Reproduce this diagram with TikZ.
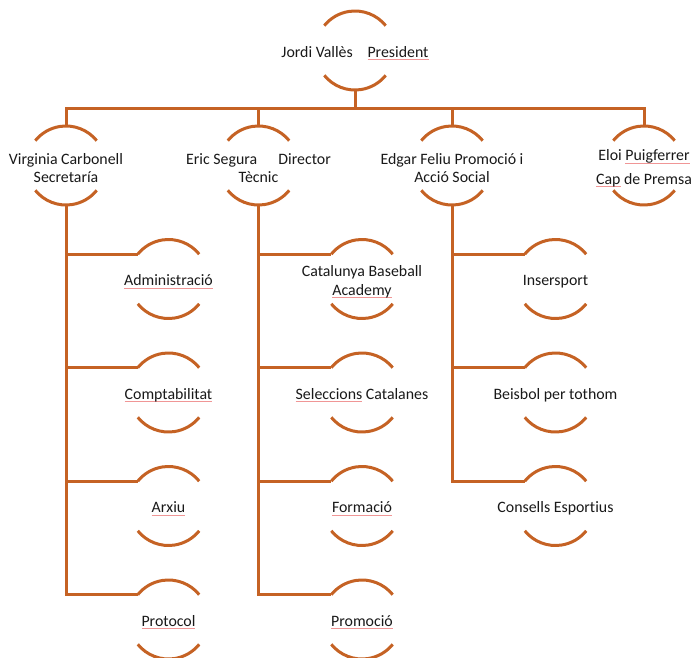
\documentclass[tikz,border=0pt]{standalone}
\usepackage{fontspec}
\setmainfont{Carlito}[Ligatures={NoCommon}]
\definecolor{lncol}{RGB}{197,98,36}
\definecolor{squig}{RGB}{240,150,150}
\definecolor{txtcol}{RGB}{25,25,25}
\newlength\sqw
\newcommand\sqline[1]{\settowidth{\sqw}{#1}\rlap{\textcolor{squig}{\rule[-1.8pt]{\sqw}{0.35pt}}}#1}
\newcommand\mkarcs[1]{%
  \draw[arcs] (#1.39) arc[start angle=39,end angle=141,radius=29.625pt];
  \draw[arcs] (#1.219) arc[start angle=219,end angle=321,radius=29.625pt];}
\begin{document}
\begin{tikzpicture}[x=0.75pt,y=-0.75pt,
  unit/.style={circle,minimum size=59.25pt,inner sep=0pt,outer sep=0pt},
  lbl/.style={align=center,font=\fontsize{11.9}{13.7}\selectfont,inner sep=0pt,text=txtcol,yshift=-2pt},
  link/.style={draw=lncol,line width=2.25pt,line join=miter},
  arcs/.style={draw=lncol,line width=2.25pt,line cap=butt}]
\useasboundingbox (0,0) rectangle (696,657);
% units
\node[unit] (pres) at (355,50.5) {};
\node[unit] (virg) at (66,165.5) {};
\node[unit] (eric) at (258.5,165.5) {};
\node[unit] (edg) at (452,165.5) {};
\node[unit] (eloi) at (644,165.5) {};
\node[unit] (adm) at (168.5,279) {};
\node[unit] (comp) at (168.5,392.5) {};
\node[unit] (arx) at (168.5,506) {};
\node[unit] (prot) at (168.5,619.5) {};
\node[unit] (cat) at (362,279) {};
\node[unit] (sel) at (362,392.5) {};
\node[unit] (form) at (362,506) {};
\node[unit] (prom) at (362,619.5) {};
\node[unit] (ins) at (555.5,279) {};
\node[unit] (beis) at (555.5,392.5) {};
\node[unit] (cons) at (555.5,506) {};
\foreach \u in {pres,virg,eric,edg,eloi,adm,comp,arx,prot,cat,sel,form,prom,ins,beis,cons}{\mkarcs{\u}}
% labels
\node[lbl] (pres-t) at (pres) {Jordi Vallès\hspace{11pt}\sqline{President}};
\node[lbl] (virg-t) at (virg) {Virginia Carbonell\\Secretaría};
\node[lbl] (eric-t) at (eric) {Eric Segura\hspace{16pt}Director\\Tècnic};
\node[lbl] (edg-t) at (edg) {Edgar Feliu Promoció i\\Acció Social};
\node[lbl] (eloi-t) at (eloi) {Eloi \sqline{Puigferrer}\\[3.8pt]\sqline{Cap} de Premsa};
\node[lbl] (adm-t) at (adm) {\sqline{Administració}};
\node[lbl] (comp-t) at (comp) {\sqline{Comptabilitat}};
\node[lbl] (arx-t) at (arx) {\sqline{Arxiu}};
\node[lbl] (prot-t) at (prot) {\sqline{Protocol}};
\node[lbl] (cat-t) at (cat) {Catalunya Baseball\\\sqline{Academy}};
\node[lbl] (sel-t) at (sel) {\sqline{Seleccions} Catalanes};
\node[lbl] (form-t) at (form) {\sqline{Formació}};
\node[lbl] (prom-t) at (prom) {\sqline{Promoció}};
\node[lbl] (ins-t) at (ins) {Insersport};
\node[lbl] (beis-t) at (beis) {Beisbol per tothom};
\node[lbl] (cons-t) at (cons) {Consells Esportius};
% connectors
\coordinate (bus) at (355,108);
\draw[link] (pres.south) -- (pres.south |- bus);
\draw[link] (virg.north) |- (bus) -| (eloi.north);
\draw[link] (eric.north |- bus) -- (eric.north);
\draw[link] (edg.north |- bus) -- (edg.north);
\foreach \c in {adm,comp,arx,prot}{\draw[link] (virg.south) |- (\c.141);}
\foreach \c in {cat,sel,form,prom}{\draw[link] (eric.south) |- (\c.141);}
\foreach \c in {ins,beis,cons}{\draw[link] (edg.south) |- (\c.141);}
\end{tikzpicture}
\end{document}
